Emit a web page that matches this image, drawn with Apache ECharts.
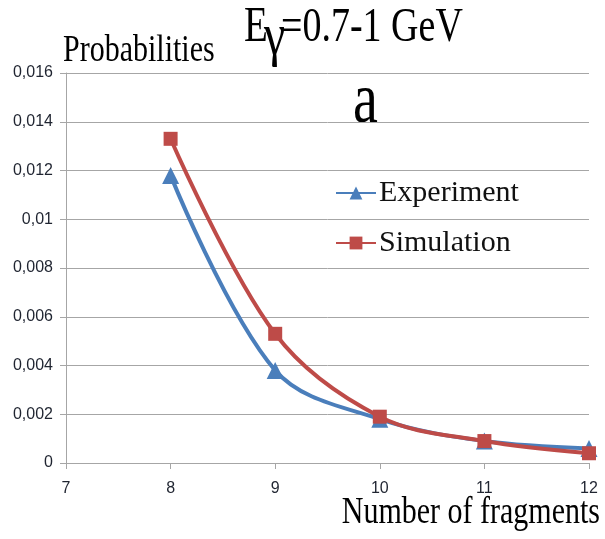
<!DOCTYPE html>
<html>
<head>
<meta charset="utf-8">
<script src="https://cdn.jsdelivr.net/npm/echarts@6/dist/echarts.min.js"></script>
<style>
  html, body { margin: 0; padding: 0; background: #fff; }
  #chart { width: 605px; height: 539px; }
</style>
</head>
<body>
<div id="chart"></div>
<script>
// Fragment counts on the x axis
const fragments = [8, 9, 10, 11, 12];
// Probability per fragment count
const experiment = [0.0118, 0.0038, 0.0018, 0.0009, 0.0006];
const simulation = [0.0133, 0.0053, 0.0019, 0.0009, 0.0004];
const seriesNames = ['Experiment', 'Simulation'];

const serif = '"Liberation Serif", "Times New Roman", serif';
const sans = '"Liberation Sans", Arial, sans-serif';
const blue = '#4a7ebb';
const red = '#be4b48';
const gridColor = '#a6a6a6';
const labelColor = '#1f2430';

const chart = echarts.init(document.getElementById('chart'));

chart.setOption({
  backgroundColor: '#ffffff',
  animation: false,
  grid: { left: 66, right: 16, top: 73, bottom: 76, containLabel: false },
  xAxis: {
    type: 'value',
    min: 7, max: 12, interval: 1,
    axisLine: { lineStyle: { color: gridColor, width: 1 } },
    axisTick: { show: true, length: 6, lineStyle: { color: gridColor } },
    axisLabel: { color: labelColor, fontFamily: sans, fontSize: 16, margin: 18 },
    splitLine: { show: false }
  },
  yAxis: {
    type: 'value',
    min: 0, max: 0.016, interval: 0.002,
    axisLine: { show: true, lineStyle: { color: gridColor, width: 1 } },
    axisTick: { show: true, length: 6, lineStyle: { color: gridColor } },
    axisLabel: {
      color: labelColor, fontFamily: sans, fontSize: 16, margin: 13,
      formatter: v => (v === 0 ? '0' : String(+v.toFixed(3)).replace('.', ','))
    },
    splitLine: { show: true, lineStyle: { color: gridColor, width: 1 } }
  },
  legend: {
    orient: 'vertical',
    left: 330, top: 173,
    itemWidth: 40, itemHeight: 16, itemGap: 20,
    data: seriesNames,
    textStyle: { fontFamily: serif, fontSize: 30, color: '#111', padding: [0, 0, 0, -2] }
  },
  series: [
    {
      name: seriesNames[0],
      type: 'line',
      smooth: 0.35,
      data: fragments.map((f, i) => [f, experiment[i]]),
      symbol: 'triangle', symbolSize: 17,
      lineStyle: { color: blue, width: 4 },
      itemStyle: { color: blue },
      z: 2
    },
    {
      name: seriesNames[1],
      type: 'line',
      smooth: 0.35,
      data: fragments.map((f, i) => [f, simulation[i]]),
      symbol: 'rect', symbolSize: 14,
      lineStyle: { color: red, width: 4 },
      itemStyle: { color: red },
      z: 3
    }
  ],
  graphic: [
    // Title: E, a large dropped gamma, then the energy range
    {
      type: 'text', left: 244, top: 3, scaleY: 1.28,
      style: { text: 'E', font: '39px ' + serif, fill: '#000' }
    },
    {
      type: 'text', left: 264, top: 8, scaleY: 1.25,
      style: { text: 'γ', font: '48px ' + serif, fill: '#000' }
    },
    {
      type: 'text', left: 281, top: 3, scaleY: 1.3,
      style: { text: '=0.7-1 GeV', font: '38px ' + serif, fill: '#000' }
    },
    {
      type: 'text', left: 63, top: 32, scaleY: 1.25,
      style: { text: 'Probabilities', font: '30px ' + serif, fill: '#000' }
    },
    {
      type: 'text', left: 353, top: 66, scaleY: 1.3,
      style: { text: 'a', font: '56px ' + serif, fill: '#000' }
    },
    {
      type: 'text', right: 5, top: 494, scaleY: 1.25,
      style: { text: 'Number of fragments', font: '30px ' + serif, fill: '#000' }
    }
  ]
});
</script>
</body>
</html>
